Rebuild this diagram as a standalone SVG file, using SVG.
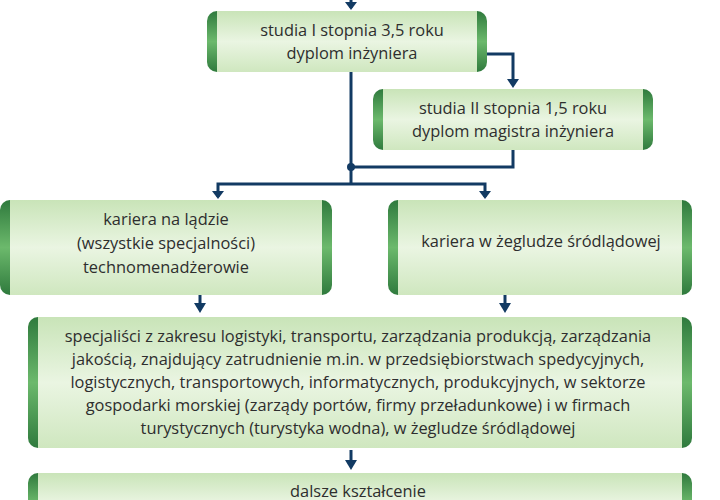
<svg xmlns="http://www.w3.org/2000/svg" width="720" height="500" viewBox="0 0 720 500">
<defs>
<linearGradient id="fill" x1="0" y1="0" x2="0" y2="1"><stop offset="0" stop-color="#c9e4b8"/><stop offset="0.5" stop-color="#eaf5e2"/><stop offset="1" stop-color="#cfe7bf"/></linearGradient>
<linearGradient id="cap" x1="0" y1="0" x2="0" y2="1"><stop offset="0" stop-color="#2f7a3d"/><stop offset="0.5" stop-color="#6cb96c"/><stop offset="1" stop-color="#2f7a3d"/></linearGradient>
</defs>
<style>
.cap{fill:url(#cap)}.body{fill:url(#fill)}
text{font-family:"Open Sans","Liberation Sans",sans-serif;font-size:16.4px;fill:#2e2e2e;text-anchor:middle}
.c{stroke:#123a63;stroke-width:3;fill:none}
.ah{fill:#123a63}
</style>
<rect width="720" height="500" fill="#fff"/>
<g id="connectors">
<path class="c" d="M351,0 V8"/><path class="ah" d="M345,2 L357,2 L351,10 Z"/>
<path class="c" d="M487,54 H513 V80"/><path class="ah" d="M507,79 L519,79 L513,88 Z"/>
<path class="c" d="M351,72 V184"/>
<path class="c" d="M513,150 V167 H351"/>
<circle cx="351" cy="167" r="4" fill="#123a63"/>
<path class="c" d="M218,197 V184 H485 V197"/>
<path class="ah" d="M212,191 L224,191 L218,199 Z"/><path class="ah" d="M479,191 L491,191 L485,199 Z"/>
<path class="c" d="M200,290 V305"/><path class="ah" d="M194,303 L206,303 L200,313 Z"/>
<path class="c" d="M505,290 V305"/><path class="ah" d="M499,303 L511,303 L505,313 Z"/>
<path class="c" d="M351,450 V462"/><path class="ah" d="M345,460 L357,460 L351,470 Z"/>
</g>
<g id="n1"><rect class="cap" x="207" y="11" width="280" height="61" rx="10"/><rect class="body" x="217" y="11" width="260" height="61"/>
<text x="352" y="36">studia I stopnia 3,5 roku</text><text x="352" y="59">dyplom inżyniera</text></g>
<g id="n2"><rect class="cap" x="373" y="89" width="280" height="61" rx="10"/><rect class="body" x="383" y="89" width="260" height="61"/>
<text x="513" y="114">studia II stopnia 1,5 roku</text><text x="513" y="137">dyplom magistra inżyniera</text></g>
<g id="n3"><rect class="cap" x="0" y="200" width="332" height="95" rx="10"/><rect class="body" x="10" y="200" width="312" height="95"/>
<text x="166" y="225">kariera na lądzie</text><text x="166" y="249">(wszystkie specjalności)</text><text x="166" y="273">technomenadżerowie</text></g>
<g id="n4"><rect class="cap" x="388" y="200" width="304" height="95" rx="10"/><rect class="body" x="398" y="200" width="284" height="95"/>
<text x="541" y="247">kariera w żegludze śródlądowej</text></g>
<g id="n5"><rect class="cap" x="28" y="317" width="664" height="131" rx="10"/><rect class="body" x="38" y="317" width="644" height="131"/>
<text x="358" y="342">specjaliści z zakresu logistyki, transportu, zarządzania produkcją, zarządzania</text>
<text x="358" y="365">jakością, znajdujący zatrudnienie m.in. w przedsiębiorstwach spedycyjnych,</text>
<text x="358" y="388">logistycznych, transportowych, informatycznych, produkcyjnych, w sektorze</text>
<text x="358" y="411">gospodarki morskiej (zarządy portów, firmy przeładunkowe) i w firmach</text>
<text x="358" y="434">turystycznych (turystyka wodna), w żegludze śródlądowej</text></g>
<g id="n6"><rect class="cap" x="28" y="473" width="664" height="60" rx="10"/><rect class="body" x="38" y="473" width="644" height="60"/>
<text x="358" y="497">dalsze kształcenie</text></g>
</svg>
